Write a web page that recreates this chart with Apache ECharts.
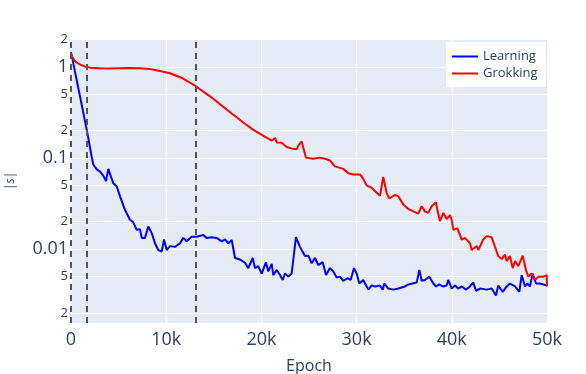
<!DOCTYPE html>
<html>
<head>
<meta charset="utf-8">
<script src="https://cdn.jsdelivr.net/npm/echarts@6/dist/echarts.min.js"></script>
<style>
  html, body { margin: 0; padding: 0; background: #fff; }
  #chart { width: 586px; height: 374px; }
</style>
</head>
<body>
<div id="chart"></div>
<script>
// values
const learnEpochs = [0, 945, 1650, 2170, 2340, 2700, 3050, 3390, 3680, 3920, 4200, 4440, 4800, 5150, 5670, 6200, 6540, 6900, 7250, 7430, 7770, 8120, 8480, 8820, 9170, 9530, 9770, 10050, 10400, 10920, 11450, 11800, 12150, 12680, 13200, 13900, 14250, 14780, 15300, 15830, 16180, 16520, 16880, 17230, 17750, 18280, 18620, 19090, 19330, 19670, 20030, 20480, 20720, 21080, 21250, 21610, 21950, 22240, 22480, 22830, 23180, 23630, 24050, 24580, 24930, 25280, 25630, 25980, 26440, 26790, 27200, 27550, 27910, 28260, 28600, 29020, 29380, 29730, 30010, 30280, 30700, 31230, 31590, 31930, 32460, 32740, 32910, 33330, 33850, 34380, 35080, 35430, 36310, 36590, 36840, 37180, 37640, 38060, 38340, 38690, 39040, 39460, 39630, 39990, 40340, 40680, 41040, 41490, 41910, 42260, 42540, 42960, 43670, 44190, 44640, 44880, 45350, 45770, 46110, 46640, 47090, 47340, 47690, 47930, 48210, 48500, 48840, 49260, 50000];
const learnValues = [1.45, 0.475, 0.205, 0.104, 0.085, 0.075, 0.071, 0.064, 0.056, 0.076, 0.062, 0.053, 0.049, 0.038, 0.027, 0.021, 0.0197, 0.0163, 0.0165, 0.0133, 0.0133, 0.0177, 0.015, 0.0116, 0.0098, 0.0094, 0.0128, 0.0098, 0.0108, 0.0106, 0.0116, 0.0133, 0.0122, 0.0137, 0.0137, 0.0143, 0.0133, 0.0135, 0.0133, 0.0122, 0.0128, 0.0116, 0.0126, 0.008, 0.0077, 0.0071, 0.0062, 0.008, 0.0062, 0.0065, 0.0054, 0.0072, 0.0057, 0.0069, 0.0052, 0.0059, 0.0052, 0.0046, 0.0054, 0.005, 0.0054, 0.0136, 0.0106, 0.0084, 0.0085, 0.007, 0.008, 0.0067, 0.0072, 0.0052, 0.0062, 0.0057, 0.0049, 0.005, 0.0045, 0.0048, 0.0046, 0.0062, 0.0054, 0.0042, 0.0046, 0.0036, 0.004, 0.0039, 0.004, 0.0036, 0.0042, 0.0037, 0.0036, 0.0037, 0.0039, 0.0041, 0.0043, 0.0059, 0.0045, 0.0046, 0.005, 0.0042, 0.0039, 0.0041, 0.0039, 0.004, 0.0046, 0.0037, 0.004, 0.0037, 0.0039, 0.0036, 0.0039, 0.0043, 0.0035, 0.0037, 0.0036, 0.0037, 0.0031, 0.004, 0.0034, 0.0039, 0.0042, 0.0039, 0.0034, 0.0052, 0.0039, 0.0042, 0.0039, 0.0054, 0.0042, 0.0042, 0.004];

const grokEpochs = [0, 420, 945, 1470, 2000, 3000, 4000, 5000, 6000, 7250, 8300, 9350, 10400, 11600, 12850, 14600, 16350, 18100, 19120, 20170, 21080, 21430, 21640, 22130, 22660, 23320, 23700, 23950, 24230, 24680, 25420, 26150, 26860, 27200, 27730, 28600, 29130, 29650, 30360, 30700, 31060, 31590, 32460, 32800, 33160, 33440, 34030, 34380, 34910, 35430, 35960, 36480, 36840, 37180, 37530, 37890, 38340, 38480, 38760, 39110, 39460, 39810, 39990, 40160, 40580, 41040, 41390, 41910, 42090, 42620, 42790, 43310, 43670, 44190, 44540, 44880, 45240, 45590, 45770, 46110, 46400, 46640, 46990, 47450, 47790, 48040, 48390, 48740, 49090, 49610, 49970, 50000];
const grokValues = [1.35, 1.15, 1.06, 1.01, 0.98, 0.965, 0.96, 0.965, 0.97, 0.965, 0.945, 0.9, 0.85, 0.76, 0.64, 0.475, 0.34, 0.245, 0.205, 0.176, 0.155, 0.166, 0.148, 0.147, 0.132, 0.126, 0.125, 0.14, 0.152, 0.101, 0.098, 0.101, 0.097, 0.094, 0.081, 0.076, 0.068, 0.066, 0.066, 0.059, 0.05, 0.047, 0.0385, 0.062, 0.041, 0.036, 0.0395, 0.038, 0.031, 0.0276, 0.026, 0.0245, 0.0296, 0.026, 0.025, 0.0296, 0.0328, 0.027, 0.0203, 0.025, 0.0214, 0.0237, 0.021, 0.0163, 0.017, 0.0127, 0.0133, 0.0116, 0.0098, 0.0108, 0.0098, 0.0128, 0.0139, 0.0135, 0.0106, 0.0084, 0.0078, 0.0087, 0.0074, 0.0084, 0.0062, 0.0074, 0.0065, 0.0085, 0.0059, 0.005, 0.0054, 0.0046, 0.005, 0.005, 0.0052, 0.0039];

// vertical dashed markers (epochs)
const markerEpochs = [0, 1650, 13100];

const xTickValues = [0, 10000, 20000, 30000, 40000, 50000];
const xTickLabels = ['0', '10k', '20k', '30k', '40k', '50k'];
const yTickValues = [0.002, 0.005, 0.01, 0.02, 0.05, 0.1, 0.2, 0.5, 1, 2];
const yTickLabels = ['2', '5', '0.01', '2', '5', '0.1', '2', '5', '1', '2'];
const yMajor = ['0.01', '0.1', '1'];

const zip = (xs, ys) => xs.map((x, i) => [x, ys[i]]);
const textColor = '#2a3f5f';
const fontFamily = '"Open Sans", "Liberation Sans", sans-serif';

const chart = echarts.init(document.getElementById('chart'), null, { renderer: 'canvas' });

const option = {
  animation: false,
  textStyle: { fontFamily: fontFamily },
  grid: {
    left: 71, right: 39, top: 39, bottom: 51,
    outerBoundsMode: 'none',
    containLabel: false,
    show: true, backgroundColor: '#e5ecf6', borderWidth: 0
  },
  legend: {
    orient: 'vertical',
    left: 446, top: 42,
    padding: [8, 8, 7, 5],
    itemGap: 4,
    itemWidth: 26, itemHeight: 14,
    backgroundColor: '#ffffff',
    itemStyle: { opacity: 0 },
    textStyle: { color: textColor, fontSize: 13, fontFamily: fontFamily },
    data: ['Learning', 'Grokking']
  },
  xAxis: {
    type: 'value',
    min: 0, max: 50000, interval: 10000,
    name: 'Epoch',
    nameLocation: 'middle',
    nameGap: 35,
    nameTextStyle: { color: textColor, fontSize: 16, fontFamily: fontFamily },
    axisLine: { show: false },
    axisTick: { show: false },
    axisLabel: {
      color: textColor, fontSize: 18, margin: 8,
      formatter: (v) => xTickLabels[xTickValues.indexOf(v)] ?? ''
    },
    splitLine: { show: true, lineStyle: { color: '#ffffff', width: 1 } }
  },
  yAxis: {
    type: 'log',
    logBase: 10,
    min: 0.00155, max: 2.02,
    name: '|s|',
    nameLocation: 'middle',
    nameRotate: 90,
    nameGap: 54,
    nameTextStyle: { color: textColor, fontSize: 12, fontStyle: 'italic', fontFamily: fontFamily },
    axisLine: { show: false },
    axisTick: { show: false, customValues: yTickValues },
    axisLabel: {
      customValues: yTickValues,
      margin: 3,
      color: textColor,
      formatter: (v) => {
        let best = 0;
        yTickValues.forEach((t, i) => {
          if (Math.abs(Math.log10(t) - Math.log10(v)) < Math.abs(Math.log10(yTickValues[best]) - Math.log10(v))) best = i;
        });
        const lab = yTickLabels[best];
        return yMajor.includes(lab) ? '{maj|' + lab + '}' : '{min|' + lab + '}';
      },
      rich: {
        maj: { fontSize: 18, color: textColor, fontFamily: fontFamily },
        min: { fontSize: 13, color: textColor, fontFamily: fontFamily }
      }
    },
    splitLine: { show: true, lineStyle: { color: '#ffffff', width: 1 } }
  },
  series: [
    {
      name: 'Learning',
      type: 'line',
      data: zip(learnEpochs, learnValues),
      symbol: 'none',
      lineStyle: { color: '#0000ff', width: 2 },
      itemStyle: { color: '#0000ff' },
      markLine: {
        silent: true,
        symbol: ['none', 'none'],
        label: { show: false },
        lineStyle: { color: '#555555', width: 2, type: [6, 5] },
        data: markerEpochs.map(e => ({ xAxis: e }))
      }
    },
    {
      name: 'Grokking',
      type: 'line',
      data: zip(grokEpochs, grokValues),
      symbol: 'none',
      lineStyle: { color: '#ff0000', width: 2 },
      itemStyle: { color: '#ff0000' }
    }
  ]
};

chart.setOption(option);
window.addEventListener('resize', () => chart.resize());
</script>
</body>
</html>
